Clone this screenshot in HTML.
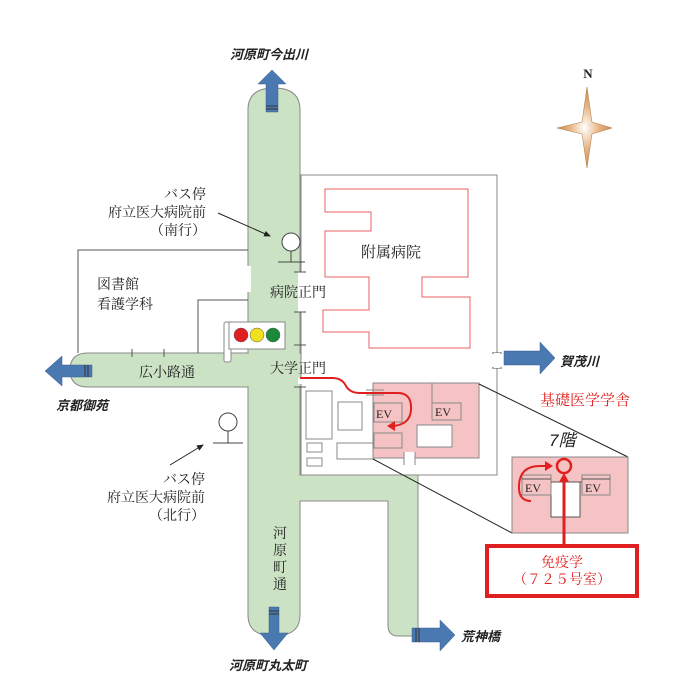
<!DOCTYPE html>
<html><head><meta charset="utf-8"><style>
html,body{margin:0;padding:0;background:#fff}
svg{display:block}
text{font-family:"Liberation Serif","Noto Serif CJK SC","Noto Sans CJK JP",serif;font-size:14px;fill:#222}
.b{font-family:"Liberation Sans","Noto Sans CJK JP",sans-serif;font-weight:bold;font-style:italic;font-size:13px}
</style></head><body>
<svg width="700" height="700" viewBox="0 0 700 700" xmlns="http://www.w3.org/2000/svg">
<defs>
<radialGradient id="g" cx="50%" cy="50%" r="50%"><stop offset="0" stop-color="#fff"/><stop offset="0.5" stop-color="#e8b88a"/><stop offset="1" stop-color="#c98a50"/></radialGradient>
<marker id="ah" markerWidth="8" markerHeight="8" refX="6" refY="4" orient="auto"><path d="M0,1 L7,4 L0,7z" fill="#222"/></marker>
</defs>
<g fill="#cbe3c4" stroke="#888" stroke-width="1">
<path d="M248,502 L248,110 Q248,88 274,88 Q300,88 300,110 L300,353 L300,475 L418,475 L418,636 L398,636 Q388,636 388,625 L388,501 L300,501 L300,615 Q300,636 274,636 Q248,636 248,615 Z"/>
<path d="M248,353 L88,353 Q70,353 70,370 Q70,387 88,387 L248,387"/>
</g>
<rect x="246" y="354" width="56" height="32" fill="#cbe3c4"/>
<rect x="301" y="476" width="116" height="24" fill="#cbe3c4"/>
<g fill="none" stroke="#555" stroke-width="1">
<path d="M78,353 L78,250 L248,250"/>
<path d="M198,353 L198,300 L248,300"/>
<path d="M132,349 V357 M164,349 V357"/>
</g>
<rect x="246" y="266" width="5" height="26" fill="#fff"/>
<rect x="301" y="175" width="196" height="300" fill="#fff" stroke="#888"/>
<rect x="298" y="272" width="6" height="40" fill="#fff"/>
<rect x="298" y="378" width="6" height="6" fill="#fff"/>
<g stroke="#555"><path d="M294,272 H306 M294,312 H306 M294,345 H306 M294,387 H306 M492,353 H502 M492,368 H502"/></g>
<rect x="494" y="353" width="6" height="15" fill="#fff"/>
<path d="M325,189 L468,189 L468,277 L422,277 L422,297 L470,297 L470,348 L369,348 L369,332 L323,332 L323,310 L369,310 L369,277 L325,277 L325,231 L371,231 L371,212 L325,212 Z" fill="none" stroke="#e86060"/>
<text x="361" y="257" style="font-size:15px">附属病院</text>
<g fill="#fff" stroke="#888">
<rect x="306" y="391" width="26" height="48"/>
<rect x="338" y="402" width="24" height="28"/>
<rect x="307" y="443" width="15" height="9"/>
<rect x="307" y="458" width="15" height="8"/>
<rect x="337" y="443" width="36" height="16"/>
</g>
<rect x="373" y="383" width="106" height="75" fill="#f5c3c3" stroke="#888"/>
<g fill="none" stroke="#888"><path d="M432,383 V420 H461 V403 H432"/></g>
<rect x="374" y="403" width="28" height="19" fill="#f5c3c3" stroke="#888"/>
<rect x="374" y="433" width="28" height="15" fill="#f5c3c3" stroke="#888"/>
<rect x="417" y="425" width="35" height="22" fill="#fff" stroke="#888"/>
<rect x="404" y="452" width="11" height="12" fill="#fff"/>
<path d="M404,452 V465 M415,452 V465" stroke="#888"/>
<text x="376" y="418" style="font-size:12px">EV</text>
<text x="435" y="416" style="font-size:12px">EV</text>
<path d="M366,390 H384 M366,395 H384" stroke="#888"/>
<path d="M300,378 H333 Q342,378 346,386 Q350,393 360,393 H398 Q412,393 411,410 Q410,425 392,426" fill="none" stroke="#e02020" stroke-width="2"/>
<path d="M387,426 L395,421 L395,431z" fill="#e02020"/>
<path d="M479,384 L628,457 M373,459 L512,533" stroke="#222"/>
<text x="540" y="405" style="font-size:15px;fill:#e02020">基礎医学学舎</text>
<text x="549" y="446" style="font-size:17px;font-style:italic;font-family:'Liberation Sans','Noto Sans CJK JP',sans-serif">7階</text>
<rect x="512" y="457" width="116" height="76" fill="#f5c3c3" stroke="#888"/>
<rect x="551" y="482" width="29" height="35" fill="#fff" stroke="#555"/>
<rect x="522" y="475" width="29" height="20" fill="#f5c3c3" stroke="#888"/>
<rect x="582" y="475" width="28" height="20" fill="#f5c3c3" stroke="#888"/>
<path d="M522,479 H551 M582,479 H610 M551,482 H582" stroke="#555"/>
<text x="525" y="492" style="font-size:12px">EV</text>
<text x="585" y="492" style="font-size:12px">EV</text>
<path d="M531,501 Q518,501 519,485 Q520,466 540,466 H548" fill="none" stroke="#e02020" stroke-width="2"/>
<path d="M553,466 L545,461 L545,471z" fill="#e02020"/>
<circle cx="564" cy="466" r="7" fill="none" stroke="#e02020" stroke-width="2.5"/>
<path d="M564,544 V478" stroke="#e02020" stroke-width="3"/>
<path d="M564,473 L559,482 L569,482z" fill="#e02020"/>
<rect x="487" y="546" width="150" height="50" fill="#fff" stroke="#e02020" stroke-width="4"/>
<text x="562" y="567" text-anchor="middle" style="fill:#e02020">免疫学</text>
<text x="562" y="584" text-anchor="middle" style="fill:#e02020">（７２５号室）</text>
<rect x="224" y="322" width="7" height="40" rx="2" fill="#fff" stroke="#888"/>
<rect x="229" y="322" width="56" height="27" fill="#fff" stroke="#888"/>
<circle cx="241" cy="335" r="7" fill="#e02020" stroke="#555" stroke-width=".5"/>
<circle cx="257" cy="335" r="7" fill="#f0e020" stroke="#555" stroke-width=".5"/>
<circle cx="273" cy="335" r="7" fill="#1a8a3a" stroke="#555" stroke-width=".5"/>
<g fill="#fff" stroke="#444">
<circle cx="291" cy="242" r="9"/><path d="M291,251 V262 M278,262 H305"/>
<circle cx="228" cy="422" r="9"/><path d="M228,431 V443 M213,443 H243"/>
</g>
<path d="M218,213 L270,236" stroke="#222" marker-end="url(#ah)"/>
<path d="M170,465 L203,445" stroke="#222" marker-end="url(#ah)"/>
<text x="206" y="199" text-anchor="end">バス停</text>
<text x="206" y="217" text-anchor="end">府立医大病院前</text>
<text x="206" y="235" text-anchor="end">（南行）</text>
<text x="205" y="484" text-anchor="end">バス停</text>
<text x="205" y="502" text-anchor="end">府立医大病院前</text>
<text x="205" y="520" text-anchor="end">（北行）</text>
<text x="97" y="289">図書館</text>
<text x="97" y="309">看護学科</text>
<text x="270" y="297">病院正門</text>
<text x="270" y="373">大学正門</text>
<text x="139" y="377">広小路通</text>
<text x="273" y="538">河</text><text x="273" y="555">原</text><text x="273" y="572">町</text><text x="273" y="589">通</text>
<g fill="#4a78b0" stroke="#3a5f90" stroke-width=".5">
<path d="M266,112 V84 H258 L272,70 L286,84 H278 V112 Z"/>
<path d="M92,365 H62 V356 L45,371 L62,386 V377 H92 Z"/>
<path d="M504,351 H540 V342 L555,358 L540,374 V365 H504 Z"/>
<path d="M269,607 V633 H260 L274,650 L288,633 H279 V607 Z"/>
<path d="M412,628 H440 V620 L455,635 L440,651 V642 H412 Z"/>
</g>
<g stroke="#333" stroke-width="1"><path d="M266,106 H278 M266,109 H278 M88,365 V377 M85,365 V377 M269,611 H279 M269,614 H279 M416,628 V642 M419,628 V642"/></g>
<text class="b" x="230" y="59">河原町今出川</text>
<text class="b" x="56" y="410">京都御苑</text>
<text class="b" x="560" y="366">賀茂川</text>
<text class="b" x="229" y="670">河原町丸太町</text>
<text class="b" x="461" y="641">荒神橋</text>
<text x="588" y="78" text-anchor="middle" style="font-weight:bold;font-size:13px">N</text>
<path d="M587,87 L592,122 L612,128 L592,134 L587,168 L582,134 L557,128 L582,122 Z" fill="url(#g)" stroke="#b07840" stroke-width=".5"/>
</svg>
</body></html>
